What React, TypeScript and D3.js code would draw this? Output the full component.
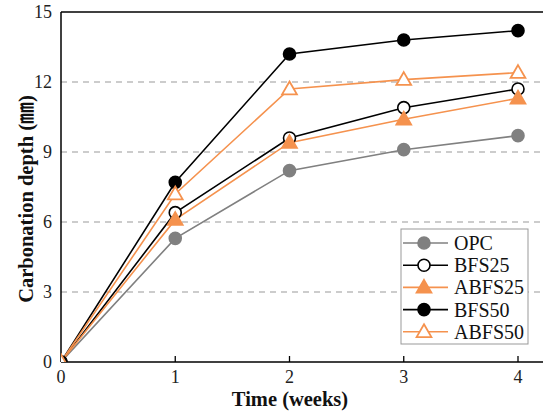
import React from "react";
import * as d3 from "d3";

const weeks = [0, 1, 2, 3, 4];
const seriesNames = ["OPC", "BFS25", "ABFS25", "BFS50", "ABFS50"];
const opc = [0, 5.3, 8.2, 9.1, 9.7];
const bfs25 = [0, 6.4, 9.6, 10.9, 11.7];
const abfs25 = [0, 6.1, 9.4, 10.4, 11.3];
const bfs50 = [0, 7.7, 13.2, 13.8, 14.2];
const abfs50 = [0, 7.2, 11.7, 12.1, 12.4];
const yTicks = [0, 3, 6, 9, 12, 15];
const xTicks = [0, 1, 2, 3, 4];

const ORANGE = "#F5924E";
const GRAY = "#808080";

type Marker = "circle" | "triangle";
const styles: { color: string; marker: Marker; fill: string }[] = [
  { color: GRAY, marker: "circle", fill: GRAY },
  { color: "#000", marker: "circle", fill: "#fff" },
  { color: ORANGE, marker: "triangle", fill: ORANGE },
  { color: "#000", marker: "circle", fill: "#000" },
  { color: ORANGE, marker: "triangle", fill: "#fff" },
];
const allValues = [opc, bfs25, abfs25, bfs50, abfs50];

const W = 543, H = 416;
const L = 61, T = 12, B = 362, R = 562;

function MarkerShape({ x, y, s }: { x: number; y: number; s: typeof styles[0] }) {
  if (s.marker === "circle") {
    return <circle cx={x} cy={y} r={6} fill={s.fill} stroke={s.color} strokeWidth={1.6} />;
  }
  const sym = d3.symbol().type(d3.symbolTriangle).size(95)();
  return (
    <path d={sym || ""} transform={`translate(${x},${y + 1})`} fill={s.fill} stroke={s.color} strokeWidth={1.8} />
  );
}

export default function App() {
  const x = d3.scaleLinear().domain([0, 4]).range([L, 518]);
  const y = d3.scaleLinear().domain([0, 15]).range([B, T]);
  const line = d3.line<number>().x((_, i) => x(weeks[i])).y((d) => y(d));
  const font = "'Liberation Serif', 'Times New Roman', serif";

  const legX = 401, legY = 229, legW = 127, legH = 115;
  const rowH = 22.2;

  return (
    <svg width={W} height={H} style={{ position: "absolute", left: 0, top: 0, background: "#fff" }} fontFamily={font}>
      <defs>
        <clipPath id="plotclip">
          <rect x={L} y={T - 10} width={R - L + 10} height={B - T + 10} />
        </clipPath>
      </defs>
      {/* grid */}
      {yTicks.filter((t) => t > 0 && t < 15).map((t) => (
        <line key={t} x1={L} x2={R} y1={y(t)} y2={y(t)} stroke="#999" strokeWidth={1} strokeDasharray="6,5" />
      ))}
      {/* frame */}
      <line x1={L} x2={R} y1={T} y2={T} stroke="#000" strokeWidth={1.3} />
      <line x1={L} x2={L} y1={T} y2={B} stroke="#000" strokeWidth={1.5} />
      <line x1={L} x2={R} y1={B} y2={B} stroke="#000" strokeWidth={1.5} />
      {xTicks.filter((t) => t > 0).map((t) => (
        <line key={t} x1={x(t)} x2={x(t)} y1={B} y2={B - 6} stroke="#000" strokeWidth={1.3} />
      ))}
      {/* tick labels */}
      {yTicks.map((t) => (
        <text key={t} x={L - 9} y={y(t) + 6} textAnchor="end" fontSize={18} fill="#222">{t}</text>
      ))}
      {xTicks.map((t) => (
        <text key={t} x={x(t)} y={B + 21} textAnchor="middle" fontSize={18} fill="#222">{t}</text>
      ))}
      {/* axis titles */}
      <text x={290} y={406} textAnchor="middle" fontSize={20.5} fontWeight="bold" fill="#111">Time (weeks)</text>
      <text transform={`translate(33,${(T + B) / 2 + 12}) rotate(-90)`} textAnchor="middle" fontSize={20.5} fontWeight="bold" fill="#111">
        Carbonation depth (<tspan fontFamily="'Noto Sans CJK KR', 'Noto Sans CJK SC', sans-serif" fontWeight="bold" fontSize={22}>㎜</tspan>)
      </text>
      {/* series */}
      <g clipPath="url(#plotclip)">
        {allValues.map((vals, si) => (
          <path key={si} d={line(vals) || ""} fill="none" stroke={styles[si].color} strokeWidth={1.6} />
        ))}
        {allValues.map((vals, si) => (
          <g key={si}>
            {vals.map((v, i) => (
              <MarkerShape key={i} x={x(weeks[i])} y={y(v)} s={styles[si]} />
            ))}
          </g>
        ))}
      </g>
      {/* legend */}
      <rect x={legX} y={legY} width={legW} height={legH} fill="#fff" stroke="#999" strokeWidth={1} />
      {seriesNames.map((name, i) => {
        const cy = legY + 14 + i * rowH;
        return (
          <g key={name}>
            <line x1={legX + 2} x2={legX + 47} y1={cy} y2={cy} stroke={styles[i].color} strokeWidth={1.6} />
            <MarkerShape x={legX + 23} y={cy} s={styles[i]} />
            <text x={legX + 53} y={cy + 7} fontSize={20} fill="#111">{name}</text>
          </g>
        );
      })}
    </svg>
  );
}
